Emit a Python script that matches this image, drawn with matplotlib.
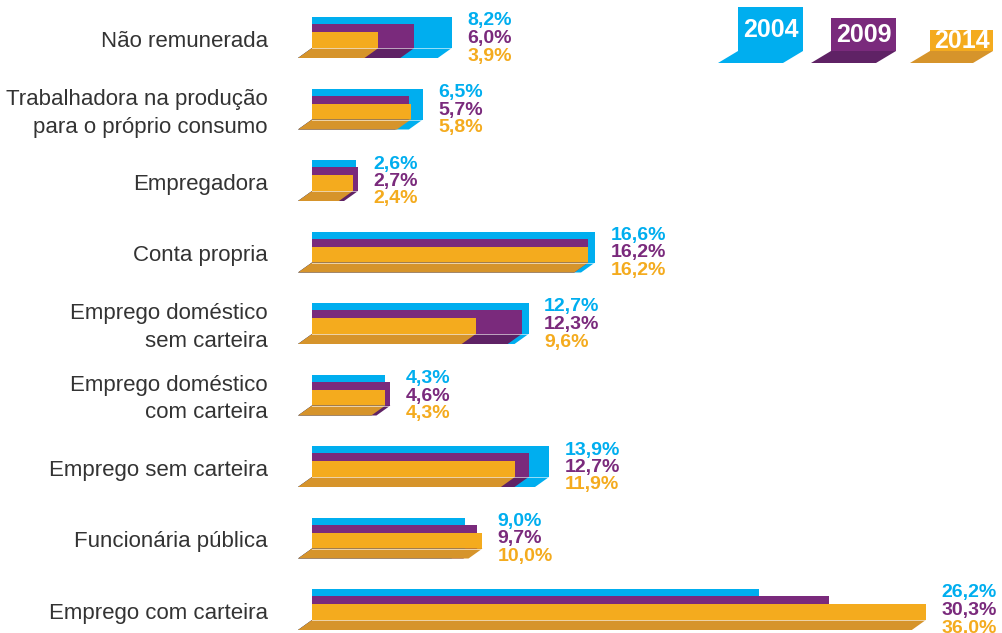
import numpy as np
import matplotlib.pyplot as plt
from matplotlib.patches import Polygon, Rectangle

categories = ["Não remunerada",
              "Trabalhadora na produção\npara o próprio consumo",
              "Empregadora",
              "Conta propria",
              "Emprego doméstico\nsem carteira",
              "Emprego doméstico\ncom carteira",
              "Emprego sem carteira",
              "Funcionária pública",
              "Emprego com carteira"]
years = ["2004", "2009", "2014"]
v2004 = [8.2, 6.5, 2.6, 16.6, 12.7, 4.3, 13.9, 9.0, 26.2]
v2009 = [6.0, 5.7, 2.7, 16.2, 12.3, 4.6, 12.7, 9.7, 30.3]
v2014 = [3.9, 5.8, 2.4, 16.2, 9.6, 4.3, 11.9, 10.0, 36.0]

face = ["#00AEEF", "#7A2A7C", "#F4AB1E"]
floor = ["#00AEEF", "#5F2265", "#D6942B"]
heights = [31, 24, 16]     # px above the base line
depth_y = 10               # floor depth (px)
px_per_pct = 17.05
depth_x = 14 / px_per_pct  # floor slant in % units

W, H = 1003, 633
fig = plt.figure(figsize=(W / 100, H / 100), dpi=100)
ax = fig.add_axes([0, 0, 1, 1])
ax.set_xlim(-312 / px_per_pct, (W - 312) / px_per_pct)
ax.set_ylim(H, 0)
ax.axis("off")

base = 48 + 71.5 * np.arange(len(categories))
series = [v2004, v2009, v2014]

for k, vals in enumerate(series):
    h = heights[k]
    ax.barh(base - h / 2, vals, height=h, left=0, color=face[k], zorder=1 + k)
for k, vals in enumerate(series):
    for y, v in zip(base, vals):
        ax.add_patch(Polygon([(0, y), (v, y), (v - depth_x, y + depth_y), (-depth_x, y + depth_y)],
                             closed=True, facecolor=floor[k], edgecolor="none", zorder=5 + k))
for y, a, b, c in zip(base, v2004, v2009, v2014):
    ax.plot([0, max(a, b, c)], [y, y], color="white", lw=0.7, alpha=0.6, zorder=9)

fmt = lambda v: f"{v:.1f}".replace(".", ",") + "%"
for y, a, b, c in zip(base, v2004, v2009, v2014):
    x = max(a, b, c) + 0.9
    for j, (v, off) in enumerate(zip((a, b, c), (-22.5, -5, 12.5))):
        ax.text(x, y + off, fmt(v), color=face[j], fontsize=14, fontweight="bold",
                family="Liberation Sans", ha="left", va="baseline")

for y, cat in zip(base, categories):
    lines = cat.split("\n")
    n = len(lines)
    for j, line in enumerate(lines):
        ax.text(-44 / px_per_pct, y - 1 + 28 * (j - (n - 1) / 2), line, ha="right", va="baseline",
                fontsize=16, color="#333333", family="Liberation Sans")

# legend
leg_left = [738, 831, 930]
leg_right = [803, 896, 993]
leg_top = [7, 18, 30]
leg_base = 51
for k, yr in enumerate(years):
    x0 = (leg_left[k] - 312) / px_per_pct
    x1 = (leg_right[k] - 312) / px_per_pct
    sx = 20 / px_per_pct
    ax.add_patch(Rectangle((x0, leg_top[k]), x1 - x0, leg_base - leg_top[k], facecolor=face[k],
                           edgecolor="none", zorder=10))
    ax.add_patch(Polygon([(x0, leg_base), (x1, leg_base), (x1 - sx, leg_base + 12), (x0 - sx, leg_base + 12)],
                         closed=True, facecolor=floor[k], edgecolor="none", zorder=10))
    ax.text((x0 + x1) / 2, (leg_top[k] + leg_base) / 2 + 1, yr, color="white", fontsize=18,
            fontweight="bold", family="Liberation Sans", ha="center", va="center", zorder=11)

fig.savefig("out.png", dpi=100)
